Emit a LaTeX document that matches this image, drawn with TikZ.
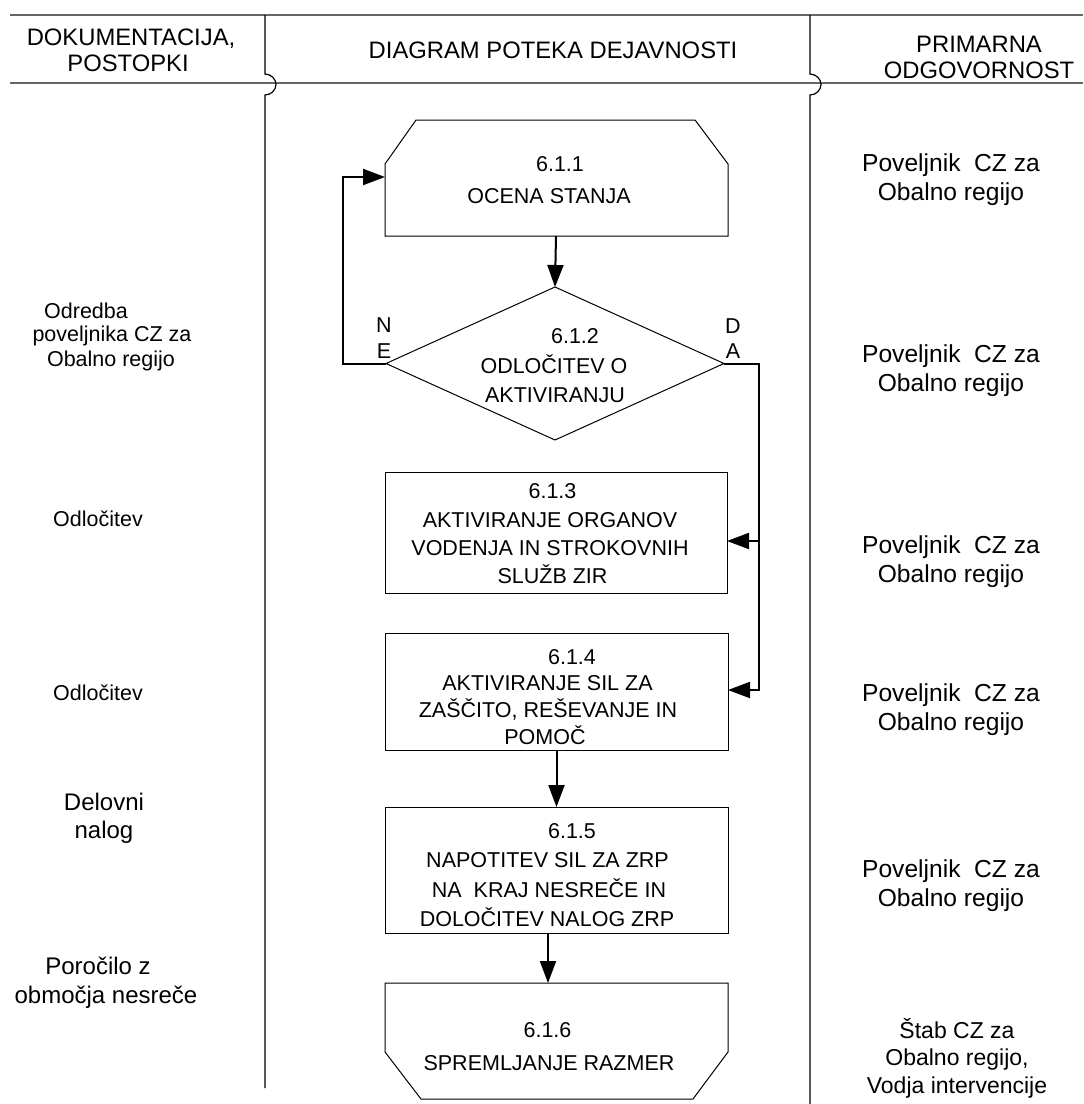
\documentclass[tikz,border=0pt]{standalone}
\usepackage{fontspec}
\setmainfont{Liberation Sans}
\usetikzlibrary{arrows.meta,shapes.geometric}
\begin{document}
\begin{tikzpicture}[x=0.5pt,y=-0.5pt,
  hline/.style={line width=0.8pt, draw=black!60},
  vline/.style={line width=0.6pt, draw=black},
  shp/.style={line width=0.5pt, draw=black},
  conn/.style={line width=1pt, draw=black},
  arr/.style={conn, -{Triangle[length=11pt,width=8pt]}},
  tb/.style={anchor=base, inner sep=0pt, font=\fontsize{10.75}{13}\selectfont},
  th/.style={anchor=base, inner sep=0pt, font=\fontsize{11.9}{14}\selectfont},
  tr/.style={anchor=base, inner sep=0pt, font=\fontsize{12.3}{14}\selectfont},
  ts/.style={anchor=base, inner sep=0pt, font=\fontsize{11.5}{14}\selectfont},
  tl/.style={anchor=base, inner sep=0pt, font=\fontsize{12}{14}\selectfont},
  box/.style={shp, rectangle, inner sep=0pt, outer sep=0pt, minimum width=171.5pt}
]
\useasboundingbox (0,0) rectangle (1083,1104);

% frame lines
\draw[hline] (10,15) -- (1083,15);
\draw[hline] (10,83) -- (1083,83);
\draw[vline] (265,15) -- (265,74) .. controls (271,74) and (276,79) .. (276,84.5) .. controls (276,90) and (271,95) .. (265,95) -- (265,1088);
\draw[vline] (810,15) -- (810,74) .. controls (816,74) and (821,79) .. (821,84.5) .. controls (821,90) and (816,95) .. (810,95) -- (810,1104);

% headers
\node[th] (h1a) at (131,45) {DOKUMENTACIJA,};
\node[th] (h1b) at (128,71) {POSTOPKI};
\node[th] (h2) at (553,58) {DIAGRAM POTEKA DEJAVNOSTI};
\node[th] (h3a) at (979,52) {PRIMARNA};
\node[th] (h3b) at (979,78) {ODGOVORNOST};

% shape 6.1.1
\draw[shp] (385,236) -- (385,164) -- (416,120) -- (695,120) -- (728,164) -- (728,236) -- cycle;
\coordinate (s1s) at (556,236);
\coordinate (s1w) at (385,177);
\node[tb] (t1a) at (560,171) {6.1.1};
\node[tb] (t1b) at (549,203) {OCENA STANJA};

% diamond 6.1.2
\node[diamond, shp, inner sep=0pt, outer sep=0pt, minimum width=169pt, minimum height=76.5pt] (d) at (555,363.5) {};
\node[tb] (t2a) at (575,343) {6.1.2};
\node[tb] (t2b) at (554,373) {ODLOČITEV O};
\node[tb] (t2c) at (555,402) {AKTIVIRANJU};
\node[tb] (tN) at (384,332) {N};
\node[tb] (tE) at (384,358) {E};
\node[tb] (tD) at (733,333) {D};
\node[tb] (tA) at (733,358) {A};

% box 6.1.3
\node[box, draw, minimum width=171pt, minimum height=60.5pt] (b3) at (556,532.5) {};
\node[tb] (t3a) at (552.5,498) {6.1.3};
\node[tb] (t3b) at (550,527) {AKTIVIRANJE ORGANOV};
\node[tb] (t3c) at (550,555) {VODENJA IN STROKOVNIH};
\node[tb] (t3d) at (552.5,583) {SLUŽB ZIR};

% box 6.1.4
\node[box, draw, minimum height=58.5pt] (b4) at (556.5,691.5) {};
\node[tb] (t4a) at (572,664) {6.1.4};
\node[tb] (t4b) at (547.5,690) {AKTIVIRANJE SIL ZA};
\node[tb] (t4c) at (548,717) {ZAŠČITO, REŠEVANJE IN};
\node[tb] (t4d) at (545,744) {POMOČ};

% box 6.1.5
\node[box, draw, minimum height=63pt] (b5) at (556.5,870) {};
\node[tb] (t5a) at (572,838) {6.1.5};
\node[tb] (t5b) at (547.5,867) {NAPOTITEV SIL ZA ZRP};
\node[tb] (t5c) at (549,897) {NA\ \ KRAJ NESREČE IN};
\node[tb] (t5d) at (547,926) {DOLOČITEV NALOG ZRP};

% shape 6.1.6
\draw[shp] (385,983) -- (728,983) -- (728,1052) -- (693,1099) -- (421,1099) -- (385,1052) -- cycle;
\coordinate (s5s) at (548,933);
\coordinate (s6n) at (548,983);
\node[tb] (t6a) at (547.5,1037) {6.1.6};
\node[tb] (t6b) at (549,1070) {SPREMLJANJE RAZMER};

% connectors
\draw[arr] (s1s) -- (d.north);
\coordinate (nx) at (343,177);
\draw[arr] (d.west) -| (nx) -- (s1w);
\coordinate (dx) at (759,690);
\draw[arr] (d.east) -| (dx) -- (dx -| b4.east);
\coordinate (dm) at (759,541);
\draw[arr] (dm) -- (dm -| b3.east);
\draw[arr] (b4.south) -- (b5.north);
\draw[arr] (s5s) -- (s6n);

% left column
\node[tb] (l1a) at (86,318) {Odredba};
\node[tb] (l1b) at (112,341) {poveljnika CZ za};
\node[tb] (l1c) at (111,366) {Obalno regijo};
\node[tb] (l2) at (98,526) {Odločitev};
\node[tb] (l3) at (98,700) {Odločitev};
\node[tl] (l4a) at (104,810) {Delovni};
\node[tl] (l4b) at (104,838) {nalog};
\node[tl] (l5a) at (98,974) {Poročilo z};
\node[tl] (l5b) at (106,1003) {območja nesreče};

% right column
\node[tr] (r1a) at (951,171) {Poveljnik\ \ CZ za};
\node[tr] (r1b) at (951,200) {Obalno regijo};
\node[tr] (r2a) at (951,362) {Poveljnik\ \ CZ za};
\node[tr] (r2b) at (951,391) {Obalno regijo};
\node[tr] (r3a) at (951,553) {Poveljnik\ \ CZ za};
\node[tr] (r3b) at (951,582) {Obalno regijo};
\node[tr] (r4a) at (951,701) {Poveljnik\ \ CZ za};
\node[tr] (r4b) at (951,730) {Obalno regijo};
\node[tr] (r5a) at (951,877) {Poveljnik\ \ CZ za};
\node[tr] (r5b) at (951,906) {Obalno regijo};
\node[ts] (r6a) at (957,1038) {Štab CZ za};
\node[ts] (r6b) at (957,1065) {Obalno regijo,};
\node[ts] (r6c) at (957,1093) {Vodja intervencije};
\end{tikzpicture}
\end{document}
